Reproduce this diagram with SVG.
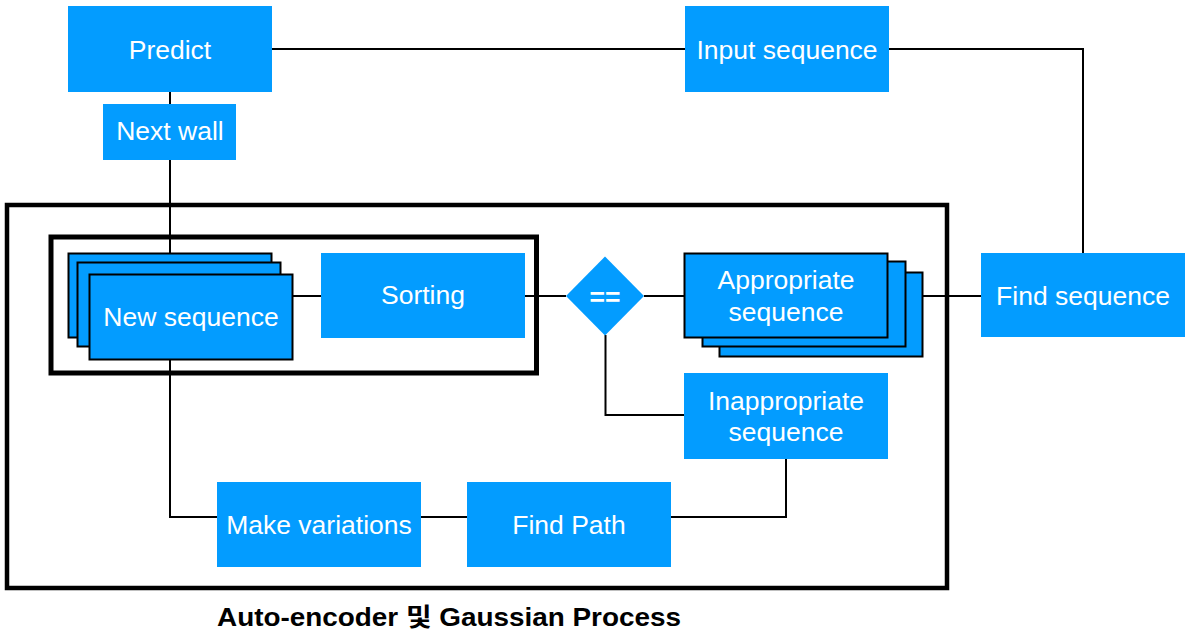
<svg xmlns="http://www.w3.org/2000/svg" width="1189" height="639" viewBox="0 0 1189 639">
<style>
.n{fill:#039cff}
.s{fill:#039cff;stroke:#000;stroke-width:2}
.t{fill:#fff;font-family:"Liberation Sans",Arial,sans-serif;font-size:26.5px;text-anchor:middle}
.c{fill:none;stroke:#000;stroke-width:2}
.f{fill:none;stroke:#000}
</style>
<rect width="1189" height="639" fill="#fff"/>
<g id="frame-outer"><rect class="f" x="7" y="205" width="940" height="383" stroke-width="4.5"/></g>
<g id="frame-inner"><rect class="f" x="51" y="237" width="485.5" height="136" stroke-width="5"/></g>
<g id="connectors">
<path class="c" d="M272,49 H685"/>
<path class="c" d="M889,49 H1083 V253"/>
<path class="c" d="M170,92 V104"/>
<path class="c" d="M170,160 V253"/>
<path class="c" d="M170,360 V517 H217"/>
<path class="c" d="M293,296 H321"/>
<path class="c" d="M525,296 H566"/>
<path class="c" d="M644,296 H684"/>
<path class="c" d="M923,296 H981"/>
<path class="c" d="M605.5,335 V415 H684"/>
<path class="c" d="M786,459 V517 H671"/>
<path class="c" d="M421,517 H467"/>
</g>
<g id="predict"><rect class="n" x="68" y="6" width="204" height="86"/><text class="t" x="170" y="59">Predict</text></g>
<g id="next-wall"><rect class="n" x="103" y="104" width="133" height="56"/><text class="t" x="170" y="140">Next wall</text></g>
<g id="input-sequence"><rect class="n" x="685" y="6" width="204" height="86"/><text class="t" x="787" y="59">Input sequence</text></g>
<g id="find-sequence"><rect class="n" x="981" y="253" width="204" height="84"/><text class="t" x="1083" y="305">Find sequence</text></g>
<g id="new-sequence">
<rect class="s" x="68.5" y="253.5" width="203" height="84"/>
<rect class="s" x="77.5" y="262.5" width="203" height="84"/>
<rect class="s" x="89.5" y="274.5" width="203" height="85"/>
<text class="t" x="191" y="326">New sequence</text>
</g>
<g id="sorting"><rect class="n" x="321" y="253" width="204" height="85"/><text class="t" x="423" y="304">Sorting</text></g>
<g id="compare"><polygon class="n" points="605,256.5 644,296 605,335.5 566,296"/><text class="t" x="605" y="306" font-weight="bold">==</text></g>
<g id="appropriate-sequence">
<rect class="s" x="719.5" y="272.5" width="203" height="84"/>
<rect class="s" x="702.5" y="261.5" width="203" height="85"/>
<rect class="s" x="684.5" y="253.5" width="203" height="84"/>
<text class="t" x="786" y="289">Appropriate</text>
<text class="t" x="786" y="321">sequence</text>
</g>
<g id="inappropriate-sequence"><rect class="n" x="684" y="373" width="204" height="86"/><text class="t" x="786" y="410">Inappropriate</text><text class="t" x="786" y="441">sequence</text></g>
<g id="make-variations"><rect class="n" x="217" y="482" width="204" height="85"/><text class="t" x="319" y="534">Make variations</text></g>
<g id="find-path"><rect class="n" x="467" y="482" width="204" height="85"/><text class="t" x="569" y="534">Find Path</text></g>
<g id="caption"><text x="217" y="626" font-family="'Liberation Sans','Noto Sans CJK KR',sans-serif" font-size="25" font-weight="bold" textLength="464" lengthAdjust="spacingAndGlyphs">Auto-encoder 및 Gaussian Process</text></g>
</svg>
